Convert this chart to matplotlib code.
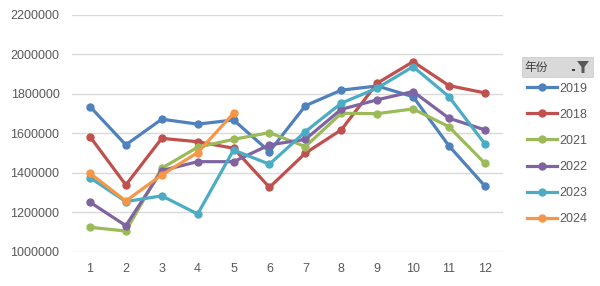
import matplotlib
matplotlib.use('Agg')
import matplotlib.pyplot as plt
from matplotlib.patches import Rectangle, Polygon

plt.rcParams['font.family'] = ['Liberation Sans', 'Noto Sans CJK SC', 'DejaVu Sans']

months = [1, 2, 3, 4, 5, 6, 7, 8, 9, 10, 11, 12]

# monthly values per year
y2019 = [1736000, 1542000, 1672000, 1647000, 1668000, 1508000, 1740000, 1819000, 1840000, 1786000, 1537000, 1334000]
y2018 = [1584000, 1339000, 1575000, 1558000, 1525000, 1327000, 1500000, 1618000, 1854000, 1963000, 1842000, 1805000]
y2021 = [1125000, 1106000, 1424000, 1530000, 1570000, 1604000, 1533000, 1702000, 1700000, 1724000, 1634000, 1449000]
y2022 = [1252000, 1133000, 1412000, 1457000, 1457000, 1542000, 1570000, 1722000, 1770000, 1812000, 1677000, 1618000]
y2023 = [1376000, 1255000, 1284000, 1192000, 1516000, 1444000, 1609000, 1753000, 1829000, 1938000, 1786000, 1547000]
y2024 = [1398000, 1258000, 1390000, 1503000, 1702000]

labels = ['2019', '2018', '2021', '2022', '2023', '2024']
series = [y2019, y2018, y2021, y2022, y2023, y2024]
colors = ['#4F81BD', '#C0504D', '#9BBB59', '#8064A2', '#4BACC6', '#F79646']

fig = plt.figure(figsize=(6, 2.86), dpi=100)
ax = fig.add_axes([0.12, 0.119, 0.718, 0.829])

handles = []
for vals, lab, c in zip(series, labels, colors):
    h, = ax.plot(months[:len(vals)], vals, color=c, lw=2.3, marker='o',
                 markersize=5, label=lab)
    handles.append(h)

ax.set_xlim(0.5, 12.5)
ax.set_ylim(1000000, 2200000)
ax.set_xticks(months)
ax.set_yticks(range(1000000, 2200001, 200000))
ax.set_yticklabels([str(v) for v in range(1000000, 2200001, 200000)])
ax.grid(axis='y', color='#D9D9D9', lw=1)
ax.set_axisbelow(True)
for s in ax.spines.values():
    s.set_visible(False)
ax.tick_params(length=0, labelsize=9, labelcolor='#595959')
ax.tick_params(axis='y', pad=9)
ax.tick_params(axis='x', pad=8)

# legend header with filter button
fig.patches.append(Rectangle((522 / 600, 1 - 77 / 286), 71 / 600, 20 / 286,
                             transform=fig.transFigure, facecolor='#D9D9D9',
                             edgecolor='#C8C8C8', lw=0.5))
fig.text(524 / 600, 1 - 67 / 286, '年份', fontsize=8.5, color='#404040',
         va='center', ha='left', family=['Noto Sans CJK SC', 'DejaVu Sans'])
fig.patches.append(Polygon([(577 / 600, 1 - 61 / 286), (589 / 600, 1 - 61 / 286),
                            (584.5 / 600, 1 - 67 / 286), (584.5 / 600, 1 - 73 / 286),
                            (581.5 / 600, 1 - 73 / 286), (581.5 / 600, 1 - 67 / 286)],
                           closed=True, transform=fig.transFigure,
                           facecolor='#595959', edgecolor='none'))
fig.patches.append(Rectangle((572 / 600, 1 - 71 / 286), 2.5 / 600, 2.5 / 286,
                             transform=fig.transFigure, facecolor='#404040',
                             edgecolor='none'))

fig.legend(handles=handles, loc='upper left', bbox_to_anchor=(524 / 600, 1 - 80 / 286),
           frameon=False, fontsize=9, labelcolor='#595959', handlelength=2.4,
           handletextpad=0.2, labelspacing=1.13, borderaxespad=0, borderpad=0.2)

fig.savefig('out.png', dpi=100, facecolor='white')
